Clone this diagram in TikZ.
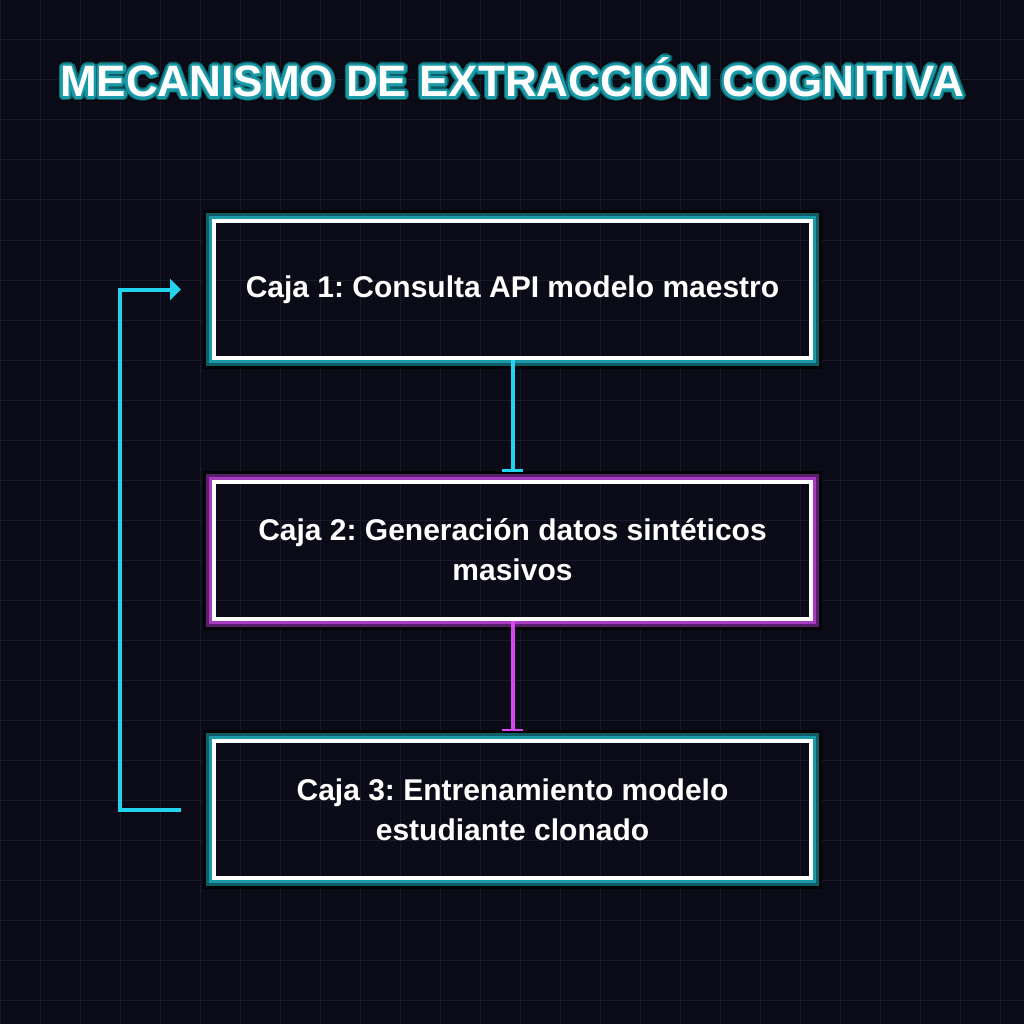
\documentclass[tikz,border=0pt]{standalone}
\usepackage{fontspec}
\setmainfont{Liberation Sans}
\usetikzlibrary{arrows.meta, positioning}
\usepackage{xcolor}
\frenchspacing

\definecolor{bgdark}{HTML}{0B0B18}
\definecolor{gridcol}{HTML}{191929}
\definecolor{neoncyan}{HTML}{22D3EE}
\definecolor{neonpink}{HTML}{D946EF}
\definecolor{cyanring}{HTML}{1A9AA8}
\definecolor{cyandeep}{HTML}{0F5E66}
\definecolor{pinkring}{HTML}{A83CC0}
\definecolor{pinkdeep}{HTML}{5A1F6C}
\definecolor{ringblack}{HTML}{040407}

% neon rings drawn outside the white border of a box
\newcommand{\glowrings}[3]{%
  \draw[ringblack, line width=3pt] ([shift={(-7.5pt,7.5pt)}]#1.north west) rectangle ([shift={(7.5pt,-7.5pt)}]#1.south east);
  \draw[#3, line width=3pt] ([shift={(-4.5pt,4.5pt)}]#1.north west) rectangle ([shift={(4.5pt,-4.5pt)}]#1.south east);
  \draw[#2, line width=3pt] ([shift={(-1.5pt,1.5pt)}]#1.north west) rectangle ([shift={(1.5pt,-1.5pt)}]#1.south east);
}

\begin{document}
\begin{tikzpicture}[x=1pt, y=-1pt,
    box/.style={rectangle, draw=white, line width=4pt, minimum width=597pt, minimum height=137pt, inner sep=0pt, align=center, text=white, font=\fontsize{30}{40}\selectfont\bfseries},
    titletext/.style={anchor=base, inner sep=0pt, font=\fontsize{44}{52}\selectfont\bfseries},
    gridline/.style={gridcol, line width=1pt},
    flow/.style={line width=4pt, -{Bar[width=21pt, line width=2.5pt]}},
    loopline/.style={neoncyan, line width=4pt, -{Triangle[width=21pt, length=11pt]}}]
\useasboundingbox (0,0) rectangle (1024,1024);
% fondo
\fill[bgdark] (0,0) rectangle (1024,1024);
\foreach \g in {0,40,...,1000} {
  \draw[gridline] (\g,0) -- (\g,1024);
  \draw[gridline] (0,\g) -- (1024,\g);
}
% titulo
\foreach \r/\c [count=\j] in {5/ringblack, 4/cyandeep, 2.5/cyanring}
  \foreach \a [count=\k] in {0,22.5,...,337.5}
    \node[titletext, text=\c] (glow\j-\k) at ([shift={(\a:\r pt)}]512,97) {MECANISMO DE EXTRACCIÓN COGNITIVA};
\node[titletext, text=white] (title) at (512,97) {MECANISMO DE EXTRACCIÓN COGNITIVA};
% cajas
\node[box] (b1) at (512.5,289.5) {Caja 1: Consulta API modelo maestro};
\node[box] (b2) at (512.5,550) {Caja 2: Generación datos sintéticos\\masivos};
\node[box] (b3) at (512.5,809.5) {Caja 3: Entrenamiento modelo\\estudiante clonado};
\glowrings{b1}{cyanring}{cyandeep}
\glowrings{b2}{pinkring}{pinkdeep}
\glowrings{b3}{cyanring}{cyandeep}
% conexiones
\draw[flow, neoncyan] (b1.south) -- ([yshift=8pt]b2.north);
\draw[flow, neonpink] (b2.south) -- ([yshift=8pt]b3.north);
\draw[loopline] ([xshift=-31pt]b3.west) -- ++(-61,0) |- ([xshift=-31pt]b1.west);
\end{tikzpicture}
\end{document}
